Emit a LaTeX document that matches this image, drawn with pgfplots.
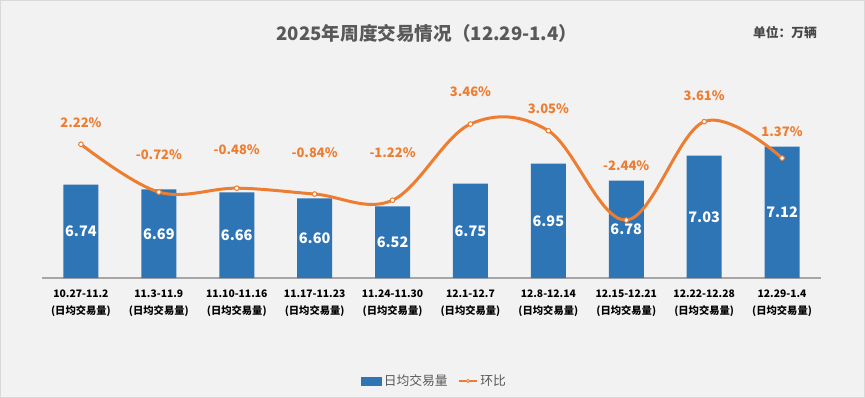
\documentclass[border=0pt]{standalone}
\usepackage{fontspec}
\setmainfont{Noto Sans CJK SC}
\usepackage{pgfplots}
\pgfplotsset{compat=1.18}
\definecolor{barblue}{HTML}{2E75B6}
\definecolor{lineorange}{HTML}{ED7D31}
\definecolor{bg}{HTML}{F2F2F2}
\definecolor{titlegray}{HTML}{595959}
\definecolor{axisgray}{HTML}{A6A6A6}
\definecolor{bordergray}{HTML}{D9D9D9}

\pgfplotstableread{
x y
0 6.74
1 6.69
2 6.66
3 6.60
4 6.52
5 6.75
6 6.95
7 6.78
8 7.03
9 7.12
}\bars

\pgfplotstableread{
x y
0 2.22
1 -0.72
2 -0.48
3 -0.84
4 -1.22
5 3.46
6 3.05
7 -2.44
8 3.61
9 1.37
}\ratio

\pgfplotstableread{
x y lab
0 3.57 2.22\%
1 1.55 -0.72\%
2 1.91 -0.48\%
3 1.73 -0.84\%
4 1.73 -1.22\%
5 5.47 3.46\%
6 4.39 3.05\%
7 0.93 -2.44\%
8 5.23 3.61\%
9 2.98 1.37\%
}\ratiolab

\begin{document}
\begin{tikzpicture}[x=1pt,y=1pt]
\fill[bg] (0,0) rectangle (865,-398);
\draw[bordergray, line width=1pt] (0.5,-0.5) rectangle (864.5,-397.5);
\node[font=\fontsize{18.6}{20}\selectfont\bfseries, text=titlegray] at (427,-33) {2025年周度交易情况（12.29-1.4）};
\node[font=\fontsize{12.8}{14}\selectfont\bfseries, text=titlegray!80!black] at (785,-33) {单位：万辆};

\begin{axis}[
  at={(42pt,-278pt)}, anchor=south west,
  scale only axis, width=779pt, height=179pt,
  xmin=-0.5, xmax=9.5, ymin=5.8, ymax=7.6,
  ybar, bar width=35pt,
  axis x line=bottom, axis y line=none,
  x axis line style={-, draw=axisgray, line width=1.2pt},
  xtick={0,...,9},
  xticklabels={{10.27-11.2\\(日均交易量)},{11.3-11.9\\(日均交易量)},{11.10-11.16\\(日均交易量)},{11.17-11.23\\(日均交易量)},{11.24-11.30\\(日均交易量)},{12.1-12.7\\(日均交易量)},{12.8-12.14\\(日均交易量)},{12.15-12.21\\(日均交易量)},{12.22-12.28\\(日均交易量)},{12.29-1.4\\(日均交易量)}},
  xticklabel style={align=center, font=\fontsize{10.3}{17}\selectfont\bfseries, text=black, yshift=-8pt},
  major tick length=0pt, tick style={draw=none},
  clip=false,
]
\addplot[fill=barblue, draw=none,
  nodes near coords, point meta=explicit symbolic,
  visualization depends on={rawy \as \rawy},
  every node near coord/.append style={anchor=center, text=white,
     font=\fontsize{14.5}{16}\selectfont\bfseries,
     shift={(axis direction cs:0,{-(\rawy-5.8)/2})}}]
  table[x=x, y=y, meta=y] {\bars};
\end{axis}

\begin{axis}[
  at={(42pt,-278pt)}, anchor=south west,
  scale only axis, width=779pt, height=179pt,
  xmin=-0.5, xmax=9.5, ymin=-6, ymax=5,
  axis lines=none, clip=false,
  legend style={at={(0.504,-0.575)}, anchor=center, draw=none, fill=none,
    font=\fontsize{12.8}{14}\selectfont, text=titlegray,
    /tikz/every even column/.append style={column sep=8pt}},
  legend columns=2, legend cell align=left,
]
\addlegendimage{legend image code/.code={\fill[barblue] (0pt,-4pt) rectangle (20pt,4pt);}}
\addlegendentry{日均交易量}
\addplot[lineorange, line width=3pt, smooth, tension=0.6,
  mark=*, mark size=2.3pt, mark options={fill=white, draw=lineorange, line width=1pt},
  legend image code/.code={\draw[lineorange, line width=2.5pt] (0pt,0pt) -- (18pt,0pt);
     \draw[lineorange, fill=white, line width=0.8pt] (9pt,0pt) circle (1.6pt);}]
  table[x=x, y=y] {\ratio};
\addlegendentry{环比}
\addplot[draw=none, mark=none, forget plot,
  nodes near coords, point meta=explicit symbolic,
  every node near coord/.append style={anchor=center, text=lineorange,
     font=\fontsize{13}{15}\selectfont\bfseries}]
  table[x=x, y=y, meta=lab] {\ratiolab};
\end{axis}
\end{tikzpicture}
\end{document}
